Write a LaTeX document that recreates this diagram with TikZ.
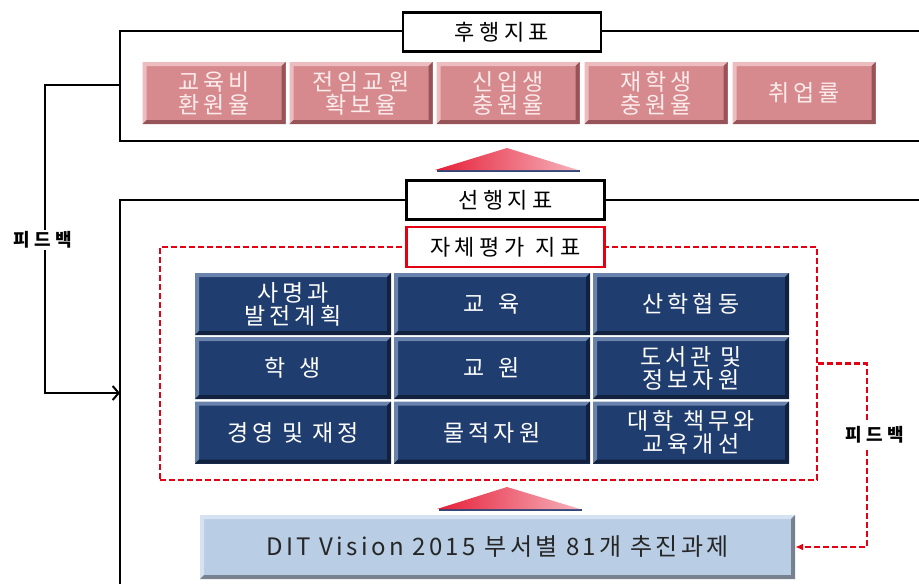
\documentclass[tikz,border=0pt]{standalone}
\usepackage{fontspec}
\setmainfont{Noto Sans CJK KR}
\newfontfamily\krs{Noto Sans CJK KR}[LetterSpace=17]
\newfontfamily\krt{Noto Sans CJK KR}[LetterSpace=20]
\newfontfamily\krf{Noto Sans CJK KR}[LetterSpace=25]
\newfontfamily\krb{Noto Sans CJK KR}[LetterSpace=14]
\usetikzlibrary{arrows.meta,shadings}
\definecolor{pinkc}{RGB}{214,138,142}
\definecolor{pinkl}{RGB}{236,188,191}
\definecolor{pinkd}{RGB}{150,84,88}
\definecolor{pinkt}{RGB}{252,236,236}
\definecolor{bluec}{RGB}{31,61,110}
\definecolor{bluel}{RGB}{106,131,172}
\definecolor{blued}{RGB}{18,34,62}
\definecolor{taskc}{RGB}{185,205,228}
\definecolor{taskl}{RGB}{212,226,241}
\definecolor{taskd}{RGB}{120,130,142}
\definecolor{redd}{RGB}{228,0,18}
\definecolor{trir}{RGB}{230,30,55}
\definecolor{trip}{RGB}{246,178,188}
\definecolor{trish}{RGB}{50,70,120}
\tikzset{
  bevel/.style n args={3}{path picture={
    \fill[#2] (path picture bounding box.south west) -- (path picture bounding box.north west)
      -- (path picture bounding box.north east) -- ([xshift=-#1,yshift=-#1]path picture bounding box.north east)
      -- ([xshift=#1,yshift=-#1]path picture bounding box.north west) -- ([xshift=#1,yshift=#1]path picture bounding box.south west) -- cycle;
    \fill[#3] (path picture bounding box.south west) -- (path picture bounding box.south east)
      -- (path picture bounding box.north east) -- ([xshift=-#1,yshift=-#1]path picture bounding box.north east)
      -- ([xshift=-#1,yshift=#1]path picture bounding box.south east) -- ([xshift=#1,yshift=#1]path picture bounding box.south west) -- cycle;
  }},
  frameline/.style={line width=2.5pt, black},
  titlebox/.style={draw=black, line width=2.5pt, fill=white, minimum width=198pt, minimum height=39pt, inner sep=0pt, font=\krt\fontsize{22}{24}\selectfont},
  pinkbox/.style={fill=pinkc, bevel={4pt}{pinkl}{pinkd}, minimum width=143pt, minimum height=62pt, inner sep=0pt, align=center, text=pinkt, font=\krs\fontsize{23}{23}\selectfont},
  cell/.style={fill=bluec, bevel={4pt}{bluel}{blued}, minimum width=196pt, minimum height=62pt, inner sep=0pt, align=center, text=white, font=\krs\fontsize{23}{23}\selectfont},
  taskbox/.style={fill=taskc, bevel={4pt}{taskl}{taskd}, minimum width=595pt, minimum height=64pt, inner sep=0pt, text=black!85, font=\krb\fontsize{24}{26}\selectfont},
  reddash/.style={draw=redd, line width=2.5pt, dash pattern=on 6pt off 3pt},
  fblabel/.style={fill=white, inner sep=2pt, font=\krf\bfseries\fontsize{18}{20}\selectfont},
}
\begin{document}
\begin{tikzpicture}[x=1pt,y=-1pt]
\fill[white] (0,0) rectangle (919,584);
\useasboundingbox (0,0) rectangle (919,584);
% outer frames
\draw[frameline] (919,31) -- (120,31) -- (120,141) -- (919,141);
\draw[frameline] (919,200) -- (120,200) -- (120,584);
% top indicators
\node[titlebox] (lag) at (502,32) {후행지표};
\node[pinkbox] (p1) at (214,93) {교육비\\환원율};
\node[pinkbox] (p2) at (361,93) {전임교원\\확보율};
\node[pinkbox] (p3) at (508,93) {신입생\\충원율};
\node[pinkbox] (p4) at (656,93) {재학생\\충원율};
\node[pinkbox] (p5) at (804,93) {취업률};
% triangle 1
\draw[trish, line width=2pt] (437,171) -- (580,171);
\shade[left color=trir, right color=trip] (435,170) -- (507,148) -- (578,170) -- cycle;
% lead indicators
\node[titlebox] (lead) at (505.5,200) {선행지표};
\node[reddash, minimum width=657pt, minimum height=233pt, inner sep=0pt] (self) at (488.5,363.5) {};
\node[titlebox, draw=redd, minimum height=40pt] (selft) at (505.5,247) {자체평가\hspace{0.1em} 지표};
\node[cell] (c11) at (293,304) {사명과\\발전계획};
\node[cell] (c12) at (492,304) {교\hspace{0.6em}육};
\node[cell] (c13) at (691,304) {산학협동};
\node[cell] (c21) at (293,368) {학\hspace{0.6em}생};
\node[cell] (c22) at (492,368) {교\hspace{0.6em}원};
\node[cell] (c23) at (691,368) {도서관 및\\정보자원};
\node[cell] (c31) at (293,432.5) {경영 및 재정};
\node[cell] (c32) at (492,432.5) {물적자원};
\node[cell] (c33) at (691,432.5) {대학 책무와\\교육개선};
% triangle 2
\draw[trish, line width=2pt] (439,510) -- (582,510);
\shade[left color=trir, right color=trip] (437,509) -- (507,487) -- (580,509) -- cycle;
% task box
\node[taskbox] (task) at (497.5,547) {DIT Vision 2015 부서별 81개 추진과제};
% left feedback
\coordinate (fbtop) at (120,85);
\coordinate (fbbot) at (120,393);
\draw[frameline, -{Straight Barb[length=6pt,width=14pt,line width=2pt]}] (fbtop) -- (45,85) -- (45,393) -- (fbbot);
\node[fblabel] (fbl) at (43,240) {피드백};
% right feedback
\draw[reddash, -{Latex[length=8pt,width=7pt]}] (self.east) -- (867,363.5) -- (867,547) -- (task.east);
\node[fblabel, inner ysep=6pt] (fbr) at (875,435) {피드백};
\end{tikzpicture}
\end{document}
